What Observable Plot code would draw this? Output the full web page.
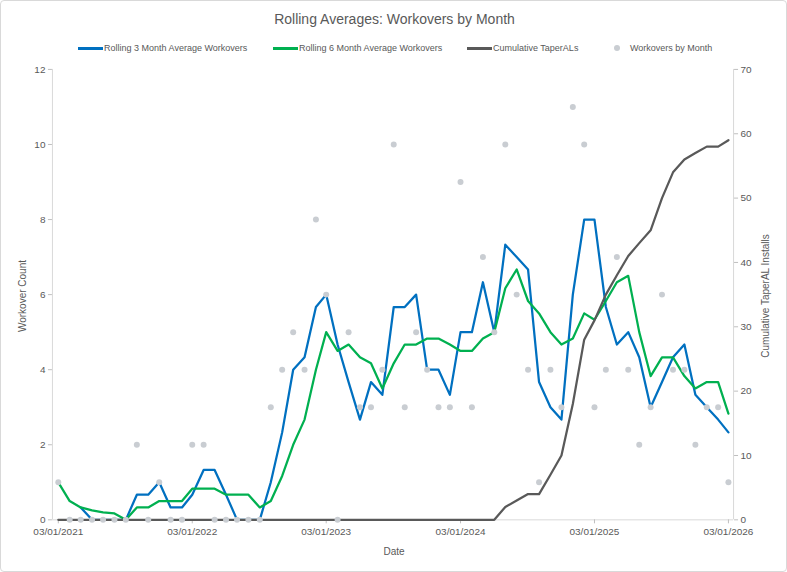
<!DOCTYPE html>
<html><head><meta charset="utf-8">
<script src="https://cdn.jsdelivr.net/npm/d3@7"></script>
<script src="https://cdn.jsdelivr.net/npm/@observablehq/plot@0.6"></script>
<style>
body{margin:0;background:#fff;font-family:"Liberation Sans",Arial,sans-serif;}
#wrap{position:relative;width:787px;height:572px;box-sizing:border-box;border:1px solid #d9d9d9;border-radius:4px;overflow:hidden;background:#fff}
#chart{position:absolute;left:-1px;top:-1px}
.t{position:absolute;color:#595959;white-space:nowrap;font-size:10px;line-height:12px}
.lg{position:absolute;color:#595959;white-space:nowrap;font-size:9px;line-height:12px;top:41px}
.sw{position:absolute;height:3px;top:46px}
</style></head>
<body><div id="wrap">
<div id="chart"></div>
<div class="t" style="left:0;width:787px;top:9px;text-align:center;font-size:14px;line-height:18px">Rolling Averages: Workovers by Month</div>
<div class="sw" style="left:77px;width:25px;background:#0070C0"></div>
<div class="lg" style="left:103px">Rolling 3 Month Average Workovers</div>
<div class="sw" style="left:272px;width:25px;background:#00B050"></div>
<div class="lg" style="left:298px">Rolling 6 Month Average Workovers</div>
<div class="sw" style="left:466px;width:25px;background:#595959"></div>
<div class="lg" style="left:492px">Cumulative TaperALs</div>
<div class="sw" style="left:613px;top:44px;width:6px;height:6px;border-radius:3px;background:#c9cdd2"></div>
<div class="lg" style="left:629px">Workovers by Month</div>
<div class="t" style="left:22px;top:295px;transform:translate(-50%,-50%) rotate(-90deg)">Workover Count</div>
<div class="t" style="left:393px;top:551px;transform:translate(-50%,-50%)">Date</div>
<div class="t" style="left:765px;top:295px;transform:translate(-50%,-50%) rotate(-90deg)">Cumulative TaperAL Installs</div>
</div>
<script>
const months = d3.utcMonth.range(new Date(Date.UTC(2021,2,1)), new Date(Date.UTC(2026,3,1)));
const workovers = [1,0,0,0,0,0,0,2,0,1, 0,0,2,2,0,0,0,0,0,3, 4,5,4,8,6,0,5,3,3,4, 10,3,5,4,3,3,9,3,7,5, 10,6,4,1,4,3,11,10,3,4, 7,4,2,3,6,4,4,2,3,3, 1];
const rolling3 = [null,null,0.33,0,0,0,0,0.67,0.67,1, 0.33,0.33,0.67,1.33,1.33,0.67,0,0,0,1, 2.33,4,4.33,5.67,6,4.67,3.67,2.67,3.67,3.33, 5.67,5.67,6,4,4,3.33,5,5,6.33,5, 7.33,7,6.67,3.67,3,2.67,6,8,8,5.67, 4.67,5,4.33,3,3.67,4.33,4.67,3.33,3,2.67, 2.33];
const rolling6 = [1,0.5,0.33,0.25,0.2,0.17,0,0.33,0.33,0.5, 0.5,0.5,0.83,0.83,0.83,0.67,0.67,0.67,0.33,0.5, 1.17,2,2.67,4,5,4.5,4.67,4.33,4.17,3.5, 4.17,4.67,4.67,4.83,4.83,4.67,4.5,4.5,4.83,5, 6.17,6.67,5.83,5.5,5,4.67,4.83,5.5,5.33,5.83, 6.33,6.5,5,3.83,4.33,4.33,3.83,3.5,3.67,3.67, 2.83];
const cumulative = [0,0,0,0,0,0,0,0,0,0, 0,0,0,0,0,0,0,0,0,0, 0,0,0,0,0,0,0,0,0,0, 0,0,0,0,0,0,0,0,0,0, 2,3,4,4,7,10,18,28,31,35, 38,41,43,45,50,54,56,57,58,58, 59];
const leftTicks = [0,2,4,6,8,10,12];
const rightTicks = [0,10,20,30,40,50,60,70];
const xTicks = [2021,2022,2023,2024,2025,2026].map(y => new Date(Date.UTC(y,2,1)));

const k = 12/70;
const x0 = new Date(Date.UTC(2021,1,13)), x1 = new Date(Date.UTC(2026,2,15));
const rows = months.map((d,i)=>({date:d, w:workovers[i], r3:rolling3[i], r6:rolling6[i], c:cumulative[i]*k}));

const chart = Plot.plot({
  width:787, height:572, marginTop:69, marginBottom:52, marginLeft:52, marginRight:53,
  style:{fontFamily:"Liberation Sans, Arial, sans-serif", fontSize:"10px", color:"#595959", background:"transparent", overflow:"visible"},
  x:{type:"utc", domain:[x0,x1]},
  y:{domain:[0,12]},
  marks:[
    Plot.ruleX([x0],{stroke:"#d9d9d9"}),
    Plot.ruleX([x1],{stroke:"#d9d9d9"}),
    Plot.ruleY([0],{stroke:"#d9d9d9"}),
    Plot.axisY({anchor:"left", ticks:leftTicks, tickSize:4, tickPadding:3, stroke:"#bfbfbf", label:null}),
    Plot.axisY({anchor:"right", ticks:rightTicks.map(v=>v*k), tickFormat:d=>String(Math.round(d/k)), tickSize:4, tickPadding:3, stroke:"#bfbfbf", label:null}),
    Plot.axisX({ticks:xTicks, tickFormat:d3.utcFormat("%m/%d/%Y"), tickSize:4, tickPadding:4, stroke:"#bfbfbf", label:null}),
    Plot.line(rows,{x:"date", y:"r3", stroke:"#0070C0", strokeWidth:2.25}),
    Plot.line(rows,{x:"date", y:"r6", stroke:"#00B050", strokeWidth:2.25}),
    Plot.line(rows,{x:"date", y:"c", stroke:"#595959", strokeWidth:2.25}),
    Plot.dot(rows,{x:"date", y:"w", r:3, fill:"#c9cdd2", stroke:"none"})
  ]
});
document.getElementById("chart").appendChild(chart);
</script>
</body></html>
